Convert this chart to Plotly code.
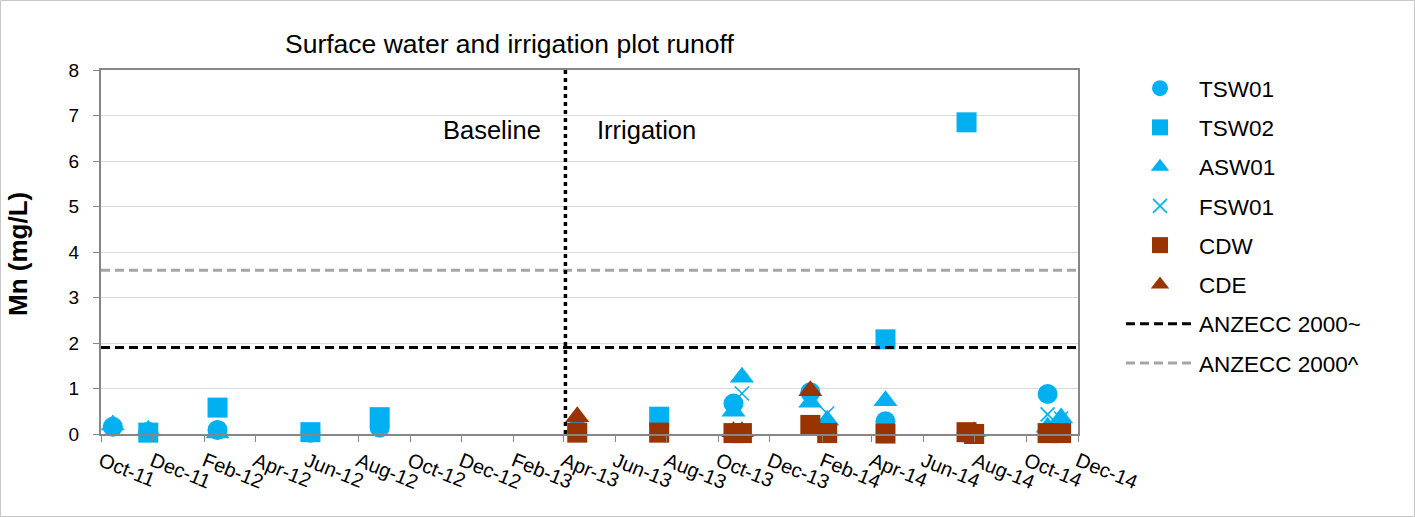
import plotly.graph_objects as go

# Sampling dates and Mn concentrations (mg/L) per monitoring site
tsw01_dates = ["2011-10-15", "2011-11-26", "2012-02-16", "2012-06-05", "2012-08-26",
               "2013-04-17", "2013-10-19", "2014-01-18", "2014-04-17", "2014-07-22",
               "2014-10-26"]
tsw01_mn = [0.16, 0.05, 0.09, 0.03, 0.14, 0.10, 0.67, 0.92, 0.28, 0.02, 0.88]

tsw02_dates = ["2011-11-26", "2012-02-16", "2012-06-05", "2012-08-26", "2013-07-23",
               "2014-04-17", "2014-07-22"]
tsw02_mn = [0.03, 0.58, 0.04, 0.37, 0.38, 2.08, 6.85]

asw01_dates = ["2011-10-15", "2011-11-26", "2012-02-16", "2013-10-19", "2013-10-29",
               "2014-01-18", "2014-02-07", "2014-04-17", "2014-07-31", "2014-10-26",
               "2014-11-11"]
asw01_mn = [0.20, 0.08, 0.02, 0.50, 1.25, 0.70, 0.30, 0.73, 0.05, 0.15, 0.35]

fsw01_dates = ["2013-10-29", "2014-02-07", "2014-10-26", "2014-11-11"]
fsw01_mn = [0.89, 0.45, 0.43, 0.34]

cdw_dates = ["2013-04-17", "2013-07-23", "2013-10-19", "2013-10-29", "2014-01-18",
             "2014-02-07", "2014-04-17", "2014-07-22", "2014-07-31", "2014-10-26",
             "2014-11-11"]
cdw_mn = [0.03, 0.03, 0.02, 0.02, 0.20, 0.02, 0.01, 0.04, 0.00, 0.02, 0.02]

cde_dates = ["2013-04-17", "2013-10-19", "2013-10-29", "2014-01-18"]
cde_mn = [0.38, 0.05, 0.05, 0.95]

# Guideline trigger values
anzecc_tilde = 1.9
anzecc_caret = 3.6

# Axis extent and start of irrigation
axis_start = "2011-10-01"
axis_end = "2014-12-01"
irrigation_start = "2013-04-03"

BLUE = "#00B0F0"
BROWN = "#993300"
FONT = "Liberation Sans, Arial, sans-serif"

W, H = 1415, 517
L, R, T, B = 101, 337, 70, 83
PW, PH = W - L - R, H - T - B


def px(xpix):
    return (xpix - L) / PW


def py(ypix):
    return (H - B - ypix) / PH


fig = go.Figure()

marker_series = [
    ("TSW01", tsw01_dates, tsw01_mn, dict(symbol="circle", size=20, color=BLUE)),
    ("TSW02", tsw02_dates, tsw02_mn, dict(symbol="square", size=20, color=BLUE)),
    ("ASW01", asw01_dates, asw01_mn, dict(symbol="triangle-up", size=21, color=BLUE)),
    ("FSW01", fsw01_dates, fsw01_mn, dict(symbol="x-thin", size=14, color=BLUE,
                                          line=dict(color=BLUE, width=1.6))),
    ("CDW", cdw_dates, cdw_mn, dict(symbol="square", size=20, color=BROWN)),
    ("CDE", cde_dates, cde_mn, dict(symbol="triangle-up", size=21, color=BROWN)),
]

for name, dates, vals, mk in marker_series:
    fig.add_trace(go.Scatter(x=dates, y=vals, mode="markers", name=name,
                             marker=mk, legendgroup=name, cliponaxis=False))

fig.add_trace(go.Scatter(x=[axis_start, axis_end], y=[anzecc_tilde, anzecc_tilde],
                         mode="lines", name="ANZECC 2000~", legendgroup="a1",
                         line=dict(color="black", width=3, dash="9px,5px")))
fig.add_trace(go.Scatter(x=[axis_start, axis_end], y=[anzecc_caret, anzecc_caret],
                         mode="lines", name="ANZECC 2000^", legendgroup="a2",
                         line=dict(color="#A6A6A6", width=3, dash="9px,5px")))

# Vertical divider between baseline and irrigation periods
fig.add_shape(type="line", xref="x", yref="y", x0=irrigation_start, x1=irrigation_start,
              y0=0, y1=8, line=dict(color="black", width=3.5, dash="4px,4px"))

# Chart-area border
fig.add_shape(type="rect", xref="paper", yref="paper",
              x0=px(0.5), x1=px(W - 0.5), y0=py(H - 0.5), y1=py(0.5),
              line=dict(color="#C8C8C8", width=1))

text_style = dict(xref="paper", yref="paper", showarrow=False,
                  xanchor="center", yanchor="middle")
fig.add_annotation(text="Surface water and irrigation plot runoff",
                   x=px(509), y=py(44), font=dict(size=26.5, color="black"), **text_style)
fig.add_annotation(text="Baseline", x=px(492), y=py(130),
                   font=dict(size=25.5, color="black"), **text_style)
fig.add_annotation(text="Irrigation", x=px(646), y=py(130),
                   font=dict(size=25.5, color="black"), **text_style)
fig.add_annotation(text="<b>Mn (mg/L)</b>", x=px(18), y=py(254), textangle=-90,
                   font=dict(size=26, color="black"), **text_style)

fig.update_layout(
    width=W, height=H,
    margin=dict(l=L, r=R, t=T, b=B, autoexpand=False),
    paper_bgcolor="white", plot_bgcolor="white",
    font=dict(family=FONT, color="black", size=19),
    showlegend=True,
    legend=dict(x=px(1121), y=py(67), xanchor="left", yanchor="top",
                font=dict(size=22.5), tracegroupgap=7, itemwidth=68,
                maxheight=480, bgcolor="rgba(0,0,0,0)"),
)

fig.update_xaxes(
    type="date", range=[axis_start, axis_end],
    tick0=axis_start, dtick="M2", tickformat="%b-%y", tickangle=22,
    ticks="outside", ticklen=6, tickcolor="#868686",
    showgrid=False, showline=True, linecolor="#868686", linewidth=2, mirror=True,
    tickfont=dict(size=20), zeroline=False,
)
fig.update_yaxes(
    range=[0, 8], dtick=1, ticks="outside", ticklen=6, tickcolor="#868686",
    showgrid=True, gridcolor="#D9D9D9", gridwidth=1,
    showline=True, linecolor="#868686", linewidth=2, mirror=True,
    tickfont=dict(size=19), zeroline=False, ticklabelstandoff=10,
)

fig.write_html("out.html")
